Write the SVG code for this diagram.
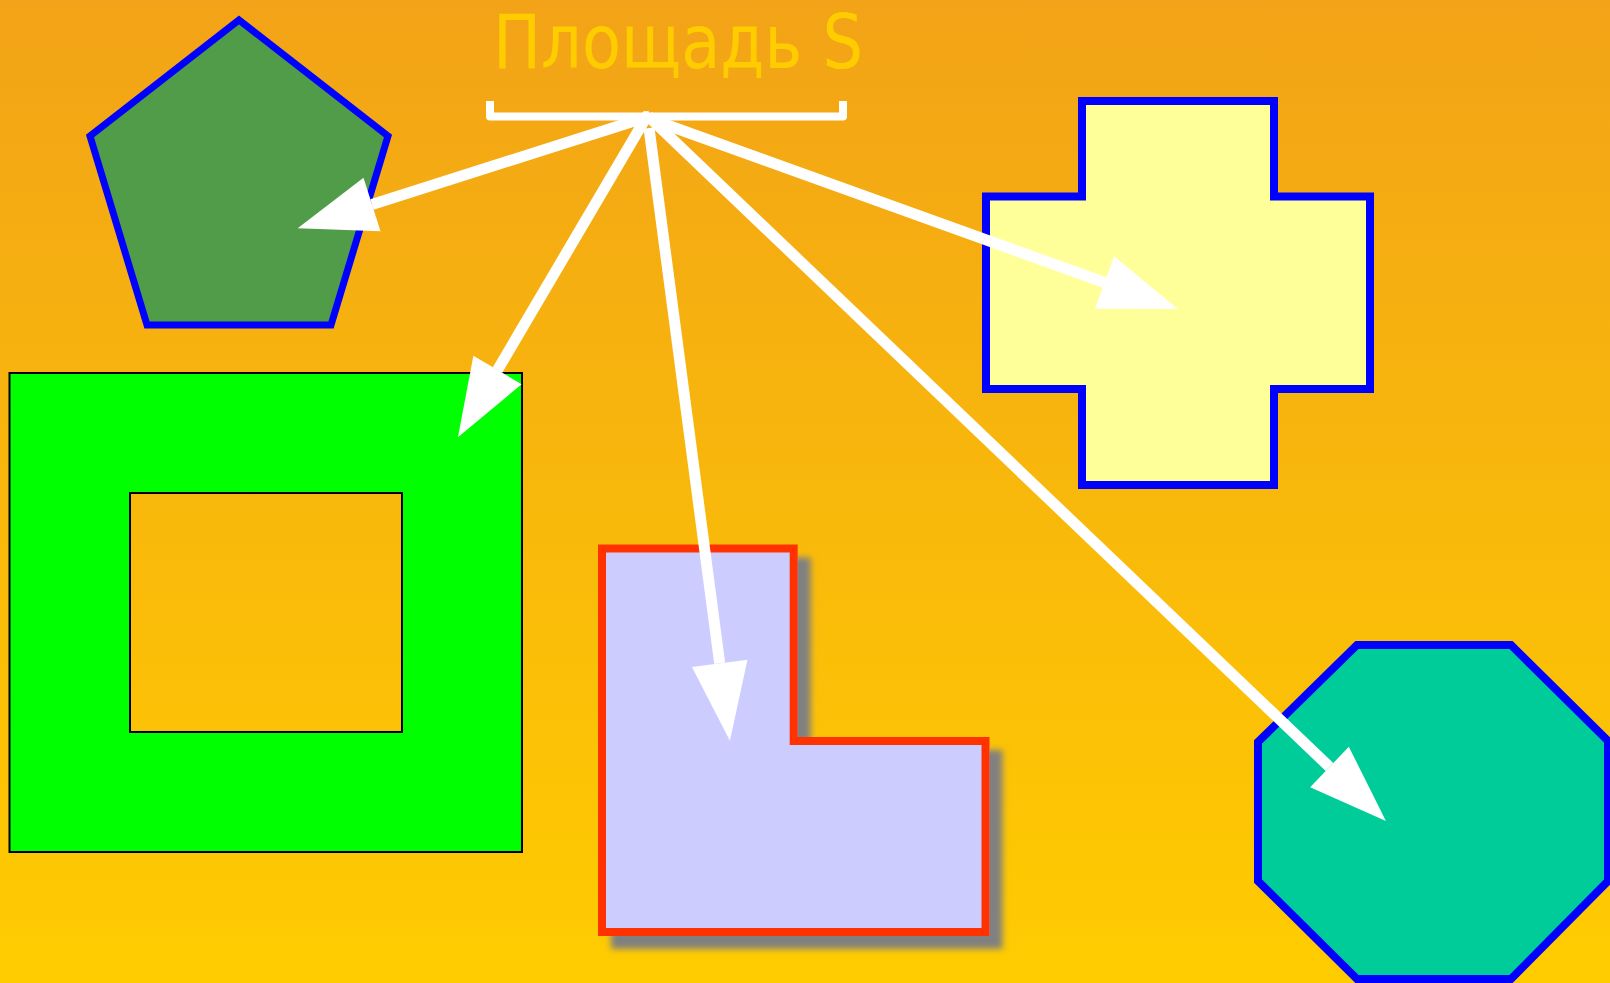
<svg xmlns="http://www.w3.org/2000/svg" width="1610" height="983" viewBox="0 0 1610 983">
  <defs>
    <linearGradient id="bg" x1="0" y1="0" x2="0" y2="1">
      <stop offset="0" stop-color="#f2a317"/>
      <stop offset="1" stop-color="#ffcc00"/>
    </linearGradient>
    <marker id="head" markerUnits="userSpaceOnUse" viewBox="0 -28 78 56" refX="0" refY="0" markerWidth="78" markerHeight="56" orient="auto" overflow="visible">
      <path d="M0,-28 L78,0 L0,28 Z" fill="#ffffff"/>
    </marker>
    <filter id="shadow" x="-10%" y="-10%" width="130%" height="130%">
      <feGaussianBlur in="SourceAlpha" stdDeviation="3"/>
      <feOffset dx="13" dy="13" result="b"/>
      <feFlood flood-color="#808080"/>
      <feComposite in2="b" operator="in"/>
      <feMerge><feMergeNode/><feMergeNode in="SourceGraphic"/></feMerge>
    </filter>
    <style>
      .blue { stroke: #0000ff; stroke-width: 8; }
      .arrow { stroke: #ffffff; stroke-width: 11; fill: none; marker-end: url(#head); }
      .title { font-family: "DejaVu Sans Condensed", "DejaVu Sans", sans-serif; font-stretch: condensed; font-size: 75px; fill: #ffcc00; }
    </style>
  </defs>
  <rect x="0" y="0" width="1610" height="983" fill="url(#bg)"/>

  <g id="title">
    <text class="title" x="493" y="68" textLength="370" lengthAdjust="spacingAndGlyphs">Площадь S</text>
    <path d="M490,101 V116.5 H843 V101" fill="none" stroke="#ffffff" stroke-width="8" stroke-linejoin="round"/>
  </g>

  <g id="pentagon">
    <polygon points="239,20 388,136 331,325 147,325 90,136" fill="#519c48" stroke="#0000ff" stroke-width="7"/>
  </g>

  <g id="frame">
    <path d="M9.5,373 H522 V852 H9.5 Z M130,493 V732 H402 V493 Z" fill="#00ff00" fill-rule="evenodd" stroke="#000000" stroke-width="2"/>
  </g>

  <g id="lshape">
    <polygon points="602,548.5 793.7,548.5 793.7,741 985.5,741 985.5,932 602,932" fill="#ccccff" stroke="#ff3300" stroke-width="8" filter="url(#shadow)"/>
  </g>

  <g id="cross">
    <polygon class="blue" points="1082,101 1274,101 1274,196.5 1370,196.5 1370,389 1274,389 1274,485 1082,485 1082,389 986,389 986,196.5 1082,196.5" fill="#ffff99"/>
  </g>

  <g id="octagon">
    <polygon class="blue" points="1357,645 1511,645 1608,741 1608,881 1511,979 1357,979 1258,881 1258,742" fill="#00cc99"/>
  </g>

  <g id="connectors">
    <line class="arrow" x1="650" y1="116" x2="372" y2="204.5"/>
    <line class="arrow" x1="647" y1="116" x2="497.5" y2="370"/>
    <line class="arrow" x1="649" y1="128" x2="719.7" y2="663.3"/>
    <line class="arrow" x1="642" y1="116" x2="1104.5" y2="282.5"/>
    <line class="arrow" x1="648" y1="116" x2="1329.5" y2="767"/>
  </g>
</svg>
